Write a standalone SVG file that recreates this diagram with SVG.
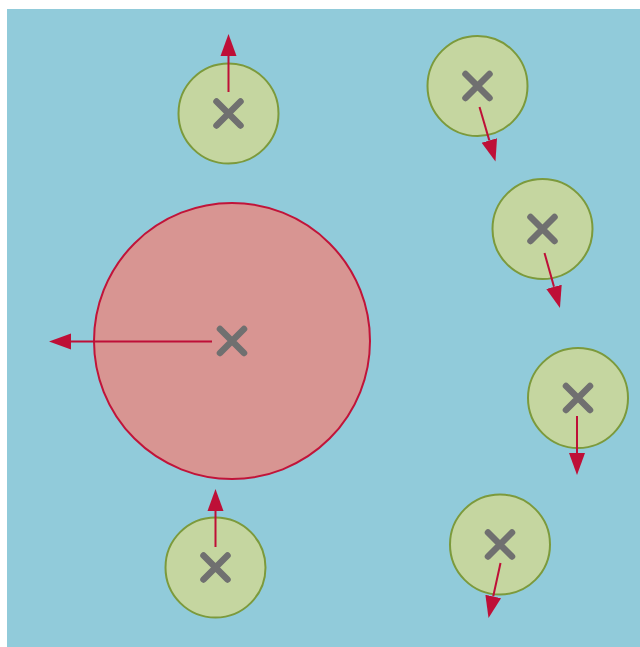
<svg xmlns="http://www.w3.org/2000/svg" width="640" height="647" viewBox="0 0 640 647">
<style>
.bg{fill:#91cbda}
.small{fill:#c5d6a0;stroke:#7c9a3c;stroke-width:2}
.big{fill:#d89592;stroke:#c11439;stroke-width:2}
.x{stroke:#707070;stroke-width:6.5;stroke-linecap:round;fill:none}
.arrow{stroke:#be0f37;stroke-width:2;fill:none;marker-end:url(#ah)}
</style>
<defs>
<marker id="ah" markerUnits="userSpaceOnUse" markerWidth="24" markerHeight="18" refX="0" refY="8" orient="auto" viewBox="0 0 24 16">
<path d="M0,0 L22,8 L0,16 Z" fill="#be0f37"/>
</marker>
<g id="xm"><path class="x" d="M-12,-12 L12,12 M12,-12 L-12,12"/></g>
</defs>
<rect class="bg" x="7" y="9" width="633" height="638"/>
<g id="big"><circle class="big" cx="232" cy="341" r="138"/><use href="#xm" x="232" y="341"/></g>
<g id="n1"><circle class="small" cx="228.5" cy="113.5" r="50"/><use href="#xm" x="228.5" y="113.5"/></g>
<g id="n2"><circle class="small" cx="477.5" cy="86" r="50"/><use href="#xm" x="477.5" y="86"/></g>
<g id="n3"><circle class="small" cx="542.5" cy="229" r="50"/><use href="#xm" x="542.5" y="229"/></g>
<g id="n4"><circle class="small" cx="578" cy="398" r="50"/><use href="#xm" x="578" y="398"/></g>
<g id="n5"><circle class="small" cx="500" cy="544.5" r="50"/><use href="#xm" x="500" y="544.5"/></g>
<g id="n6"><circle class="small" cx="215.5" cy="567.5" r="50"/><use href="#xm" x="215.5" y="567.5"/></g>
<g id="connectors">
<line class="arrow" x1="228.5" y1="92" x2="228.5" y2="56"/>
<line class="arrow" x1="479.5" y1="107" x2="489.3" y2="140.4"/>
<line class="arrow" x1="544.5" y1="253" x2="554" y2="286.8"/>
<line class="arrow" x1="577" y1="416" x2="577" y2="453"/>
<line class="arrow" x1="500.5" y1="563" x2="493.2" y2="596.5"/>
<line class="arrow" x1="215.5" y1="547" x2="215.5" y2="511"/>
<line class="arrow" x1="212" y1="341.5" x2="71" y2="341.5"/>
</g>
</svg>
